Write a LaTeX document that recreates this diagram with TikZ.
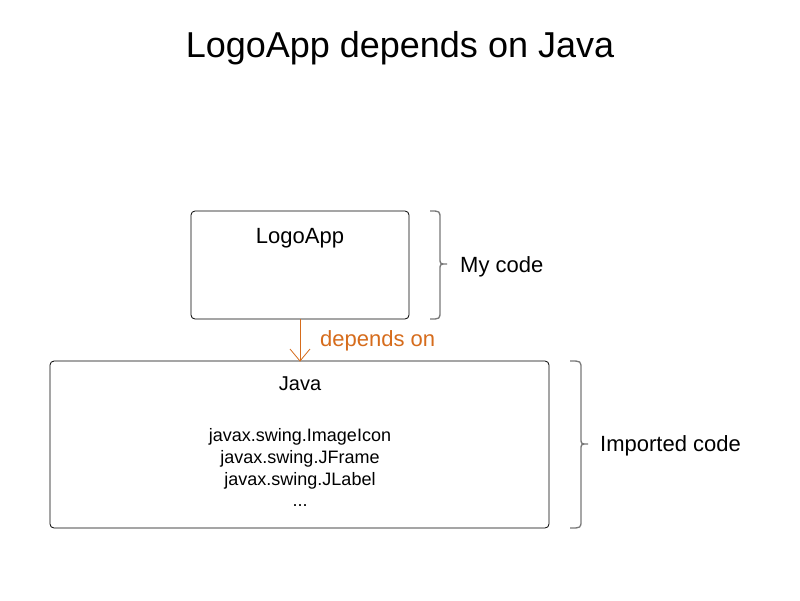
\documentclass[tikz,border=0pt]{standalone}
\usepackage{fontspec}
\setmainfont{Liberation Sans}
\definecolor{deporange}{RGB}{214,108,28}
\definecolor{bracegray}{RGB}{120,120,120}
\tikzset{
  box/.style={draw=black, line width=0.8pt, rounded corners=4pt, inner sep=0pt},
  lbl/.style={inner sep=0pt, anchor=base west},
  ctext/.style={inner sep=0pt, anchor=base},
  bracepath/.style={draw=bracegray, line width=1.3pt},
}
\newcommand{\bracepathR}[6]{% x0 x1 x2 ytop ymid ybot
  \draw[bracepath] (#1,#4) .. controls (#2,#4) .. (#2,#4+8) -- (#2,#5-6)
    .. controls (#2,#5) .. (#3,#5) .. controls (#2,#5) .. (#2,#5+6)
    -- (#2,#6-8) .. controls (#2,#6) .. (#1,#6);}
\begin{document}
\begin{tikzpicture}[x=1pt,y=-1pt]
\useasboundingbox (0,0) rectangle (800,600);
\fill[white] (0,0) rectangle (800,600);
% title
\node[ctext] (title) at (400,57) {\fontsize{36}{40}\selectfont LogoApp depends on Java};
% boxes
\draw[box] (191,211) rectangle (409,319);
\coordinate (appTop) at (300,211);
\coordinate (appBot) at (300,319);
\node[ctext] (app) at (300,243) {\fontsize{22}{26}\selectfont LogoApp};
\draw[box] (50,361) rectangle (549,528);
\coordinate (javaTop) at (300,361);
\node[ctext] (java) at (300,390) {\fontsize{20}{24}\selectfont Java};
\node[ctext] (l1) at (300,441.7) {\fontsize{18}{21.7}\selectfont javax.swing.ImageIcon};
\node[ctext] (l2) at (300,463.4) {\fontsize{18}{21.7}\selectfont javax.swing.JFrame};
\node[ctext] (l3) at (300,485.1) {\fontsize{18}{21.7}\selectfont javax.swing.JLabel};
\node[ctext] (l4) at (300,506.8) {\fontsize{18}{21.7}\selectfont ...};
% arrow
\draw[deporange, line width=0.8pt] (appBot) -- (javaTop);
\draw[deporange, line width=0.8pt] (290,349) -- (javaTop) -- (310,349);
\node[lbl, text=deporange] (dep) at (320,346) {\fontsize{22}{26}\selectfont depends on};
% braces
\bracepathR{430}{440}{447}{211}{264}{319}
\node[lbl] (my) at (460,272) {\fontsize{22}{26}\selectfont My code};
\bracepathR{570}{581}{588}{361}{444}{528}
\node[lbl] (imp) at (600,451) {\fontsize{22}{26}\selectfont Imported code};
\end{tikzpicture}
\end{document}
